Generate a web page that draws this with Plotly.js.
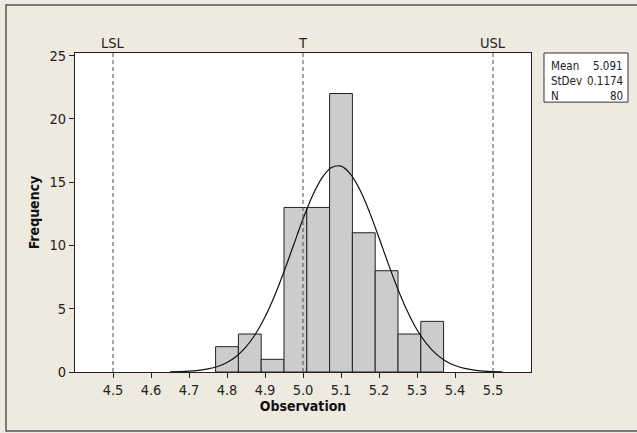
<!DOCTYPE html>
<html>
<head>
<meta charset="utf-8">
<script src="https://cdn.plot.ly/plotly-3.0.1.min.js"></script>
<style>html,body{margin:0;padding:0;background:#EEEAE0;}#chart{width:637px;height:433px;}</style>
</head>
<body>
<div id="chart"></div>
<script>
// Histogram bins (centers, width 0.06) and counts
const binCenters = [4.80, 4.86, 4.92, 4.98, 5.04, 5.10, 5.16, 5.22, 5.28, 5.34];
const binCounts  = [2, 3, 1, 13, 13, 22, 11, 8, 3, 4];
const binWidth = 0.06;

// Fitted normal curve
const curveX = [4.65, 4.675, 4.70, 4.725, 4.75, 4.775, 4.80, 4.825, 4.85, 4.875, 4.90, 4.925, 4.95, 4.975, 5.00, 5.025, 5.05, 5.075, 5.10, 5.125, 5.15, 5.175, 5.20, 5.225, 5.25, 5.275, 5.30, 5.325, 5.35, 5.375, 5.40, 5.425, 5.45, 5.475, 5.50, 5.525];
const curveY = [0.014, 0.031, 0.064, 0.127, 0.24, 0.435, 0.755, 1.25, 1.98, 3.0, 4.34, 6.0, 7.93, 10.01, 12.08, 13.93, 15.34, 16.16, 16.26, 15.64, 14.37, 12.63, 10.6, 8.5, 6.52, 4.78, 3.34, 2.24, 1.43, 0.874, 0.511, 0.285, 0.152, 0.077, 0.038, 0.018];

// Specification lines
const specLabels = ['LSL', 'T', 'USL'];
const specValues = [4.5, 5.0, 5.5];

// Summary statistics box
const statLabels = ['Mean', 'StDev', 'N'];
const statValues = ['5.091', '0.1174', '80'];

// Axis ticks
const xTicks = [4.5, 4.6, 4.7, 4.8, 4.9, 5.0, 5.1, 5.2, 5.3, 5.4, 5.5];
const xTickText = ['4.5', '4.6', '4.7', '4.8', '4.9', '5.0', '5.1', '5.2', '5.3', '5.4', '5.5'];
const yTicks = [0, 5, 10, 15, 20, 25];

const FONT = 'DejaVu Sans Condensed, DejaVu Sans, sans-serif';
const TICK = 14.5;

const traces = [
  {
    type: 'bar',
    x: binCenters,
    y: binCounts,
    width: binCounts.map(() => binWidth),
    marker: {color: '#CCCCCC', line: {color: '#222222', width: 1}},
    hoverinfo: 'x+y'
  },
  {
    type: 'scatter',
    mode: 'lines',
    x: curveX,
    y: curveY,
    line: {color: '#111111', width: 1.2, shape: 'spline'},
    hoverinfo: 'skip'
  }
];

const shapes = [];
const annotations = [];

specValues.forEach((v, i) => {
  shapes.push({type: 'line', xref: 'x', yref: 'paper', x0: v, x1: v, y0: 0, y1: 1,
    line: {color: '#4a4a4a', width: 1, dash: '4px,3px'}, layer: 'above'});
  annotations.push({xref: 'x', yref: 'paper', x: v, y: 1.0, yanchor: 'bottom', yshift: 0,
    text: specLabels[i], showarrow: false, font: {family: FONT, size: TICK, color: '#222'}});
});

// stats box
const bx0 = 1.0285, bx1 = 1.2127, by0 = 0.846, by1 = 1.0;
shapes.push({type: 'rect', xref: 'paper', yref: 'paper', x0: bx0, x1: bx1, y0: by0, y1: by1,
  line: {color: '#333333', width: 1}, fillcolor: '#FFFFFF'});
statLabels.forEach((lab, i) => {
  const yy = by1 - 0.012 - i * 0.047;
  annotations.push({xref: 'paper', yref: 'paper', x: bx0 + 0.01, y: yy, xanchor: 'left', yanchor: 'top',
    text: lab, showarrow: false, font: {family: FONT, size: 11.5, color: '#222'}});
  annotations.push({xref: 'paper', yref: 'paper', x: bx1 - 0.006, y: yy, xanchor: 'right', yanchor: 'top',
    text: statValues[i], showarrow: false, font: {family: FONT, size: 11.5, color: '#222'}});
});

// outer frame
shapes.push({type: 'rect', xref: 'paper', yref: 'paper', x0: -0.1513, x1: 1.25, y0: -0.185, y1: 1.1505,
  line: {color: '#555555', width: 1.5}, layer: 'below'});

const layout = {
  width: 637, height: 433,
  margin: {l: 75, r: 106, t: 53, b: 61},
  paper_bgcolor: '#EEEAE0',
  plot_bgcolor: '#FFFFFF',
  showlegend: false,
  bargap: 0,
  font: {family: FONT, size: TICK, color: '#222'},
  xaxis: {
    range: [4.4, 5.6],
    tickvals: xTicks, ticktext: xTickText,
    ticks: 'outside', ticklen: 5, tickcolor: '#222',
    showline: true, linecolor: '#222', linewidth: 1, mirror: true,
    showgrid: false, zeroline: false,
    tickfont: {family: FONT, size: TICK, color: '#222'},
    title: {text: '<b>Observation</b>', font: {family: FONT, size: 14, color: '#111'}, standoff: 2}
  },
  yaxis: {
    range: [0, 25.2],
    tickvals: yTicks,
    ticks: 'outside', ticklen: 5, tickcolor: '#222',
    showline: true, linecolor: '#222', linewidth: 1, mirror: true,
    showgrid: false, zeroline: false,
    tickfont: {family: FONT, size: TICK, color: '#222'},
    title: {text: '<b>Frequency</b>', font: {family: FONT, size: 14, color: '#111'}, standoff: 6}
  },
  shapes: shapes,
  annotations: annotations
};

Plotly.newPlot('chart', traces, layout, {displayModeBar: false, staticPlot: true});
</script>
</body>
</html>
